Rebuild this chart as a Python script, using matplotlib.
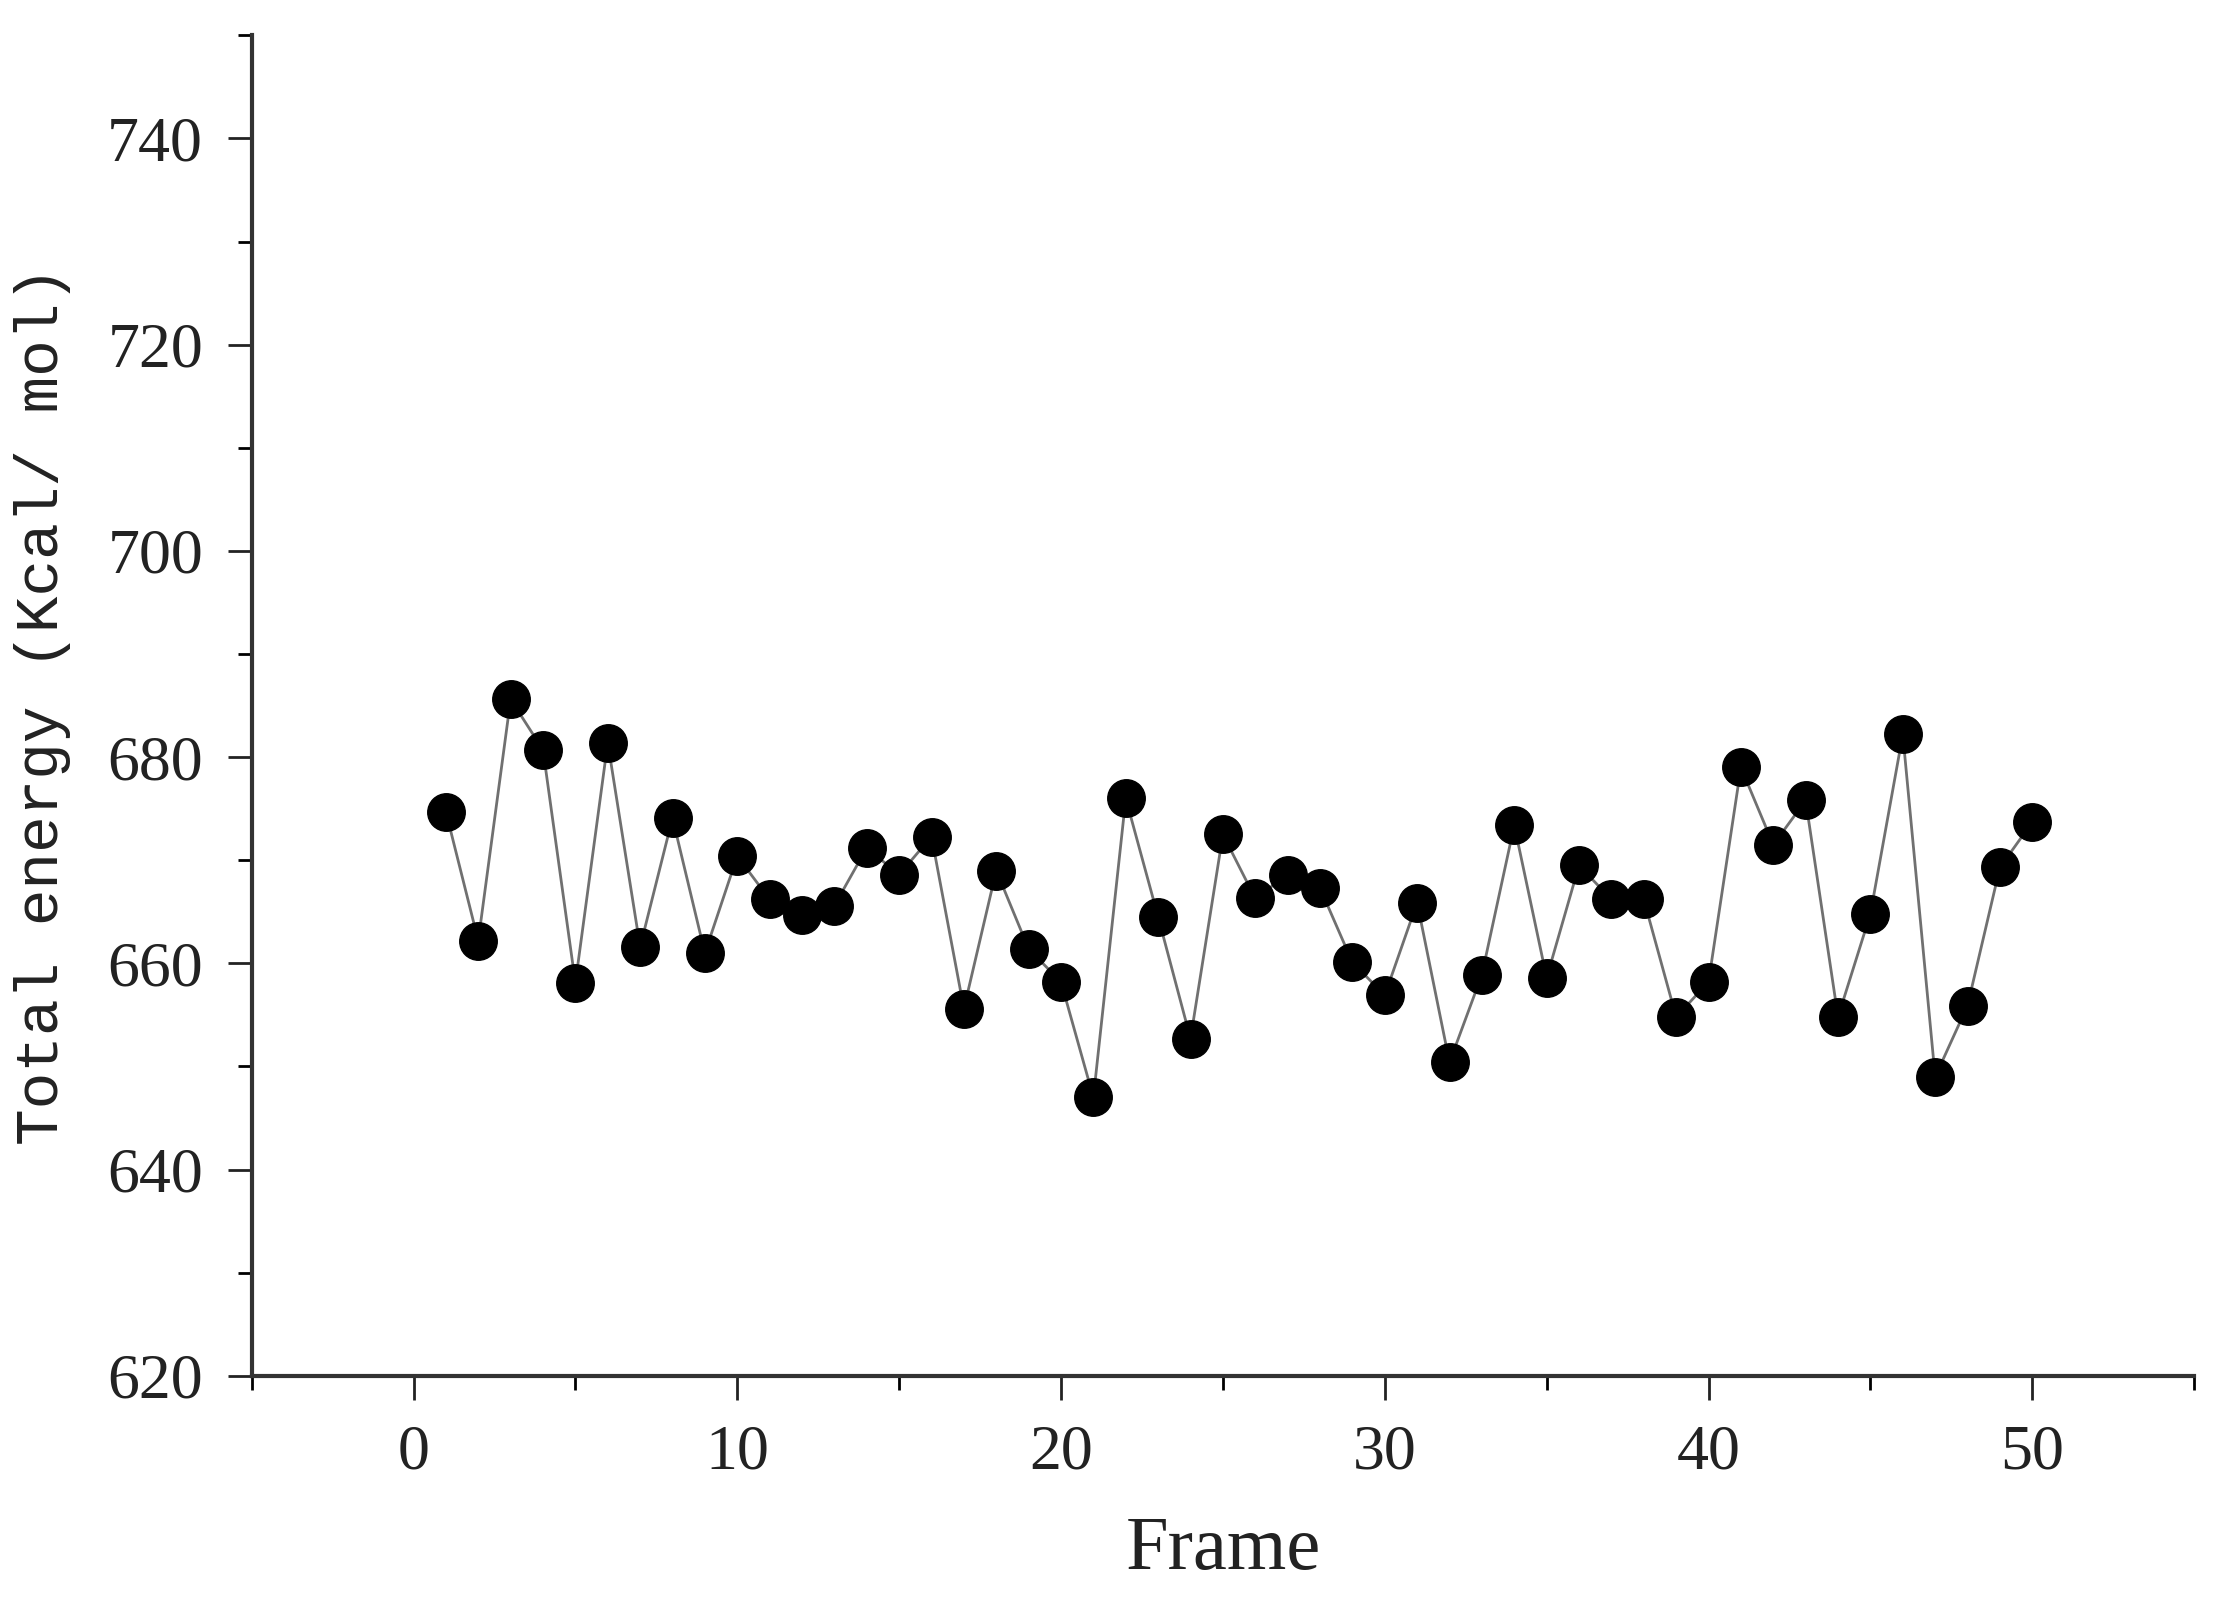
import numpy as np
import matplotlib
matplotlib.use("Agg")
import matplotlib.pyplot as plt
from matplotlib.ticker import MultipleLocator

# total energy per frame
frames = list(range(1, 51))
energy = [674.7, 662.2, 685.6, 680.7, 658.1, 681.4, 661.6, 674.1, 661.0, 670.4,
          666.2, 664.7, 665.6, 671.2, 668.6, 672.3, 655.6, 669.0, 661.4, 658.2,
          647.0, 676.0, 664.5, 652.7, 672.5, 666.3, 668.6, 667.3, 660.1, 656.9,
          665.9, 650.4, 658.9, 673.4, 658.6, 669.5, 666.2, 666.2, 654.8, 658.2,
          679.0, 671.5, 675.8, 654.8, 664.8, 682.2, 649.0, 655.9, 669.3, 673.7]

fig = plt.figure(figsize=(22.17, 16.03), dpi=100)
ax = fig.add_axes([0.1135, 0.1417, 0.8762, 0.8363])

ax.plot(frames, energy, color='#707070', lw=2, zorder=1)
ax.plot(frames, energy, 'o', color='black', ms=27, zorder=2)

ax.set_xlim(-5, 55)
ax.set_ylim(620, 750)
ax.xaxis.set_major_locator(MultipleLocator(10))
ax.xaxis.set_minor_locator(MultipleLocator(5))
ax.yaxis.set_major_locator(MultipleLocator(20))
ax.yaxis.set_minor_locator(MultipleLocator(10))
ax.set_yticks([620, 640, 660, 680, 700, 720, 740])

for s in ['top', 'right']:
    ax.spines[s].set_visible(False)
for s in ['left', 'bottom']:
    ax.spines[s].set_linewidth(3)
    ax.spines[s].set_color('#333333')

ax.tick_params(which='major', direction='out', length=17, width=2, pad=18,
               labelsize=46, colors='#222222')
ax.tick_params(which='minor', direction='out', length=10, width=2)
for lab in ax.get_xticklabels() + ax.get_yticklabels():
    lab.set_family('Liberation Serif')

ax.set_xlabel('Frame', family='Liberation Serif', fontsize=55, color='#222222', labelpad=24)
ax.set_ylabel('Total energy (Kcal/ mol)', family='Liberation Mono', fontsize=44,
              color='#222222', labelpad=26)

fig.savefig('out.png', dpi=100, facecolor='white')
